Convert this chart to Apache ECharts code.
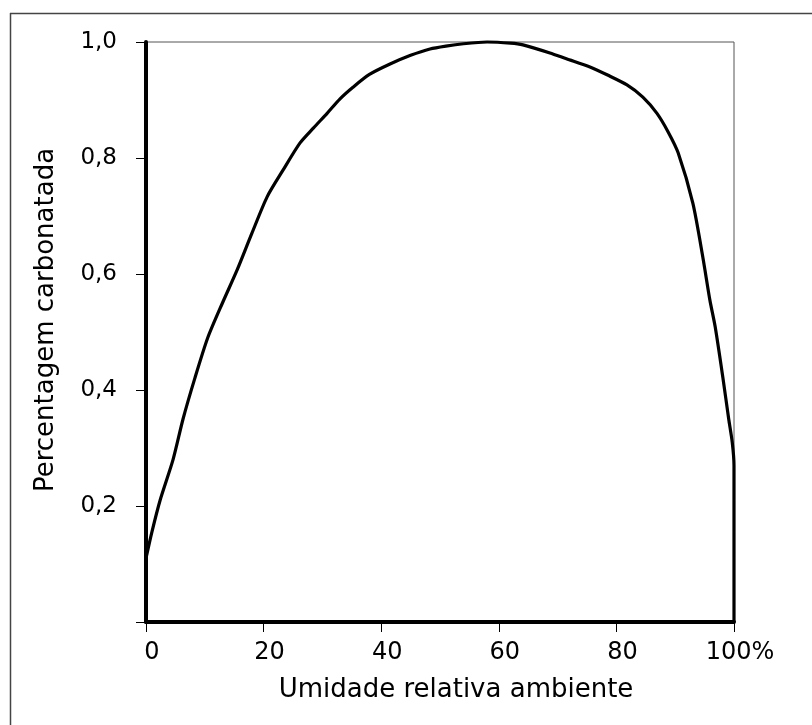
<!DOCTYPE html>
<html>
<head>
<meta charset="utf-8">
<script src="https://cdn.jsdelivr.net/npm/echarts@6/dist/echarts.min.js"></script>
<style>
html,body{margin:0;padding:0;background:#fff;}
#chart{width:812px;height:725px;}
</style>
</head>
<body>
<div id="chart"></div>
<script>
// Umidade relativa ambiente (%)
const humidity = [0, 1, 2.4, 4.6, 6.3, 8.3, 10.5, 13, 15.5, 18, 20.6, 23.3, 26.2, 28.5, 30.8, 33, 35.2, 38, 41.5, 45, 48.3, 51, 54, 58, 62, 64.1, 68.7, 71.5, 75.5, 78.5, 81.8, 84.5, 86.9, 88.8, 90.5, 93, 94.7, 95.9, 96.8, 98.1, 99.1, 99.7, 100, 100, 100];
// Percentagem carbonatada
const carbonated = [0.11, 0.155, 0.21, 0.28, 0.35, 0.42, 0.49, 0.55, 0.607, 0.67, 0.733, 0.779, 0.826, 0.852, 0.877, 0.902, 0.922, 0.944, 0.962, 0.977, 0.988, 0.993, 0.997, 1.0, 0.998, 0.995, 0.981, 0.971, 0.957, 0.943, 0.926, 0.905, 0.877, 0.845, 0.809, 0.722, 0.629, 0.555, 0.509, 0.422, 0.35, 0.31, 0.27, 0.03, 0];
const xTicks = [0, 20, 40, 60, 80, 100];
const yTicks = [0.2, 0.4, 0.6, 0.8, 1.0];
const xTitle = 'Umidade relativa ambiente';
const yTitle = 'Percentagem carbonatada';

const points = humidity.map((h, i) => [h, carbonated[i]]);
const FONT = 'DejaVu Sans';

const chart = echarts.init(document.getElementById('chart'));
chart.setOption({
  backgroundColor: '#fff',
  animation: false,
  graphic: [
    { type: 'line', shape: { x1: 10.5, y1: 13, x2: 10.5, y2: 725 }, style: { stroke: '#444', lineWidth: 1.5 } },
    { type: 'line', shape: { x1: 10, y1: 13.5, x2: 812, y2: 13.5 }, style: { stroke: '#444', lineWidth: 1.5 } }
  ],
  grid: {
    left: 146, top: 42, right: 78, bottom: 103,
    show: true, borderColor: '#555', borderWidth: 1, backgroundColor: 'transparent'
  },
  xAxis: {
    type: 'value', min: 0, max: 100, interval: 20,
    name: xTitle, nameLocation: 'middle', nameGap: 55,
    nameTextStyle: { fontFamily: FONT, fontSize: 26, color: '#000', padding: [0, 0, 0, 32] },
    axisLine: { show: true, lineStyle: { color: '#000', width: 4 } },
    axisTick: { show: true, inside: false, length: 10, lineStyle: { color: '#000', width: 1 } },
    axisLabel: {
      margin: 19, fontFamily: FONT, fontSize: 24, color: '#000', padding: [0, 0, 0, 12],
      formatter: v => xTicks.indexOf(v) < 0 ? '' : (v === 100 ? '100%' : String(v))
    },
    splitLine: { show: false }
  },
  yAxis: {
    type: 'value', min: 0, max: 1, interval: 0.2,
    name: yTitle, nameLocation: 'middle', nameGap: 87, nameRotate: 90,
    nameTextStyle: { fontFamily: FONT, fontSize: 26, color: '#000', padding: [0, 0, 0, 24] },
    axisLine: { show: true, lineStyle: { color: '#000', width: 4 } },
    axisTick: { show: true, inside: false, length: 10, lineStyle: { color: '#000', width: 1 } },
    axisLabel: {
      margin: 29, fontFamily: FONT, fontSize: 23, color: '#000',
      formatter: v => {
        const t = yTicks.find(y => Math.abs(y - v) < 1e-9);
        return t === undefined ? '' : t.toFixed(1).replace('.', ',');
      }
    },
    splitLine: { show: false }
  },
  series: [{
    type: 'line',
    data: points,
    showSymbol: false,
    clip: false,
    smooth: 0.25,
    lineStyle: { color: '#000', width: 3.2 },
    z: 5
  }]
});
</script>
</body>
</html>
